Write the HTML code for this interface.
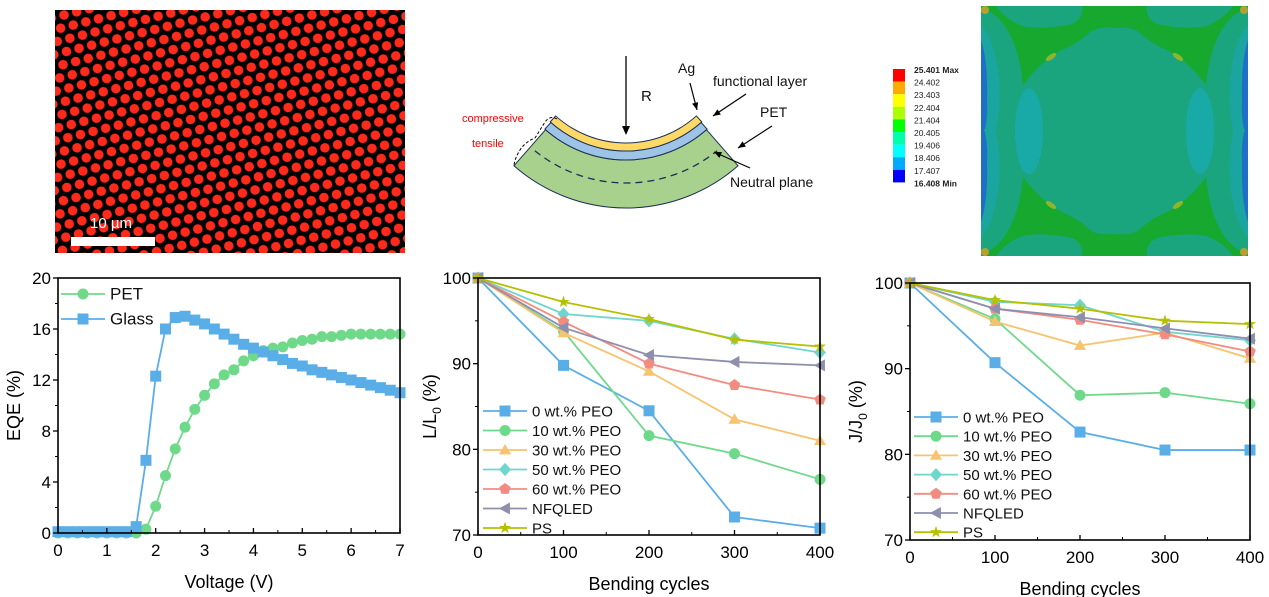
<!DOCTYPE html>
<html><head><meta charset="utf-8"><style>
body{margin:0;background:#fff;width:1269px;height:597px;overflow:hidden;font-family:"Liberation Sans",sans-serif}
svg{position:absolute;left:0;top:0}
</style></head><body>
<svg id="s" width="1269" height="597" viewBox="0 0 1269 597" xmlns="http://www.w3.org/2000/svg" font-family="Liberation Sans, sans-serif">
<defs>
<pattern id="dots" width="13" height="24" patternUnits="userSpaceOnUse" patternTransform="rotate(-14)">
<rect width="13" height="24" fill="#000"/>
<circle cx="6.5" cy="6" r="4.8" fill="#ff2a1c"/>
<circle cx="0" cy="18" r="4.8" fill="#ff2a1c"/><circle cx="13" cy="18" r="4.8" fill="#ff2a1c"/>
</pattern>
<clipPath id="fe"><rect x="981" y="6" width="267" height="250"/></clipPath>
<g id="feq">
<path d="M981 6 L1116 6 L1116 28 Q1095 26 1088 34 Q1075 45 1062 50 Q1040 62 1023 85 Q1018 35 995 15 Z" fill="#17a82f"/>
<path d="M996 6 L1082 6 Q1084 18 1072 24 Q1045 30 1022 26 Q1004 18 996 6Z" fill="#1aa57f"/>
<path d="M981 25 Q995 40 999 80 Q1001 110 995 133 L981 133Z" fill="#1aa5a0"/>
<path d="M981 40 Q988 60 987 100 Q988 120 984 133 L981 133Z" fill="#1f6fc8"/>
<ellipse cx="1029" cy="130" rx="14" ry="42" fill="#19a9a7"/>
<ellipse cx="1051" cy="57" rx="6" ry="2.5" transform="rotate(-35 1051 57)" fill="#8fb52a"/>
<circle cx="985" cy="10" r="4" fill="#b5a030"/>
</g>
</defs>
<g>
<rect x="55" y="10" width="350" height="243" fill="url(#dots)"/>
<text x="90" y="228" font-size="15" fill="#fff">10 µm</text>
<rect x="71" y="237" width="84" height="9" fill="#fff"/>
</g>
<g id="schem"></g>
<g>
<rect x="981" y="6" width="267" height="250" fill="#1aa57f"/>
<g clip-path="url(#fe)">
<use href="#feq"/>
<use href="#feq" transform="translate(2229,0) scale(-1,1)"/>
<use href="#feq" transform="translate(0,262) scale(1,-1)"/>
<use href="#feq" transform="translate(2229,262) scale(-1,-1)"/>
</g>
</g>
<g id="cbar"></g>
<g id="c1"></g><g id="c2"></g><g id="c3"></g>
</svg>
<script>
const NS="http://www.w3.org/2000/svg";
function E(p,t,a,txt){const e=document.createElementNS(NS,t);for(const k in a)e.setAttribute(k,a[k]);if(txt!==undefined)e.textContent=txt;p.appendChild(e);return e;}
const sc=document.getElementById('schem');
(function(){
  const cx=626, cy=38;
  const p=(r,a)=>[cx+r*Math.sin(a),cy+r*Math.cos(a)];
  function arc(r1,r2,a,fill){
    const A=p(r1,-a),B=p(r1,a),C=p(r2,a),D=p(r2,-a);
    return E(sc,'path',{d:`M${A} A${r1} ${r1} 0 0 0 ${B} L${C} A${r2} ${r2} 0 0 1 ${D} Z`,fill:fill,stroke:'#1d2f55','stroke-width':1});
  }
  const a=0.72;
  arc(122,170,a,'#a9d18e');
  arc(113,122,a*1.01,'#9dc3e6');
  arc(105,113,a*1.02,'#ffd966');
  const d1=p(145,-0.68),d2=p(145,0.68);
  E(sc,'path',{d:`M${d1} A145 145 0 0 0 ${d2}`,fill:'none',stroke:'#1d2f55','stroke-width':1.3,'stroke-dasharray':'7 5'});
  E(sc,'line',{x1:626,y1:56,x2:626,y2:132,stroke:'#000','stroke-width':1.3});
  E(sc,'path',{d:'M622 126 L626 135 L630 126Z',fill:'#000'});
  const T=(x,y,s,t,c)=>E(sc,'text',{x:x,y:y,'font-size':s,fill:c||'#111'},t);
  T(641,101,15,'R');T(678,73,14,'Ag');T(713,86,14,'functional layer');T(760,117,14,'PET');T(730,187,14,'Neutral plane');
  T(462,122,11,'compressive','#f00');T(472,147,11,'tensile','#f00');
  const ar=(x1,y1,x2,y2)=>{E(sc,'line',{x1:x1,y1:y1,x2:x2,y2:y2,stroke:'#000','stroke-width':1.2});const a=Math.atan2(y2-y1,x2-x1);E(sc,'path',{d:`M${x2} ${y2} L${x2-8*Math.cos(a-0.4)} ${y2-8*Math.sin(a-0.4)} L${x2-8*Math.cos(a+0.4)} ${y2-8*Math.sin(a+0.4)}Z`,fill:'#000'});};
  ar(690,83,697,110);ar(746,94,713,116);ar(772,126,738,148);ar(750,168,714,152);
  E(sc,'path',{d:'M557 119 Q550 115 545 122 Q540 130 535 138 Q525 142 520 150 Q515 158 514 165',fill:'none',stroke:'#000','stroke-dasharray':'3 2'});
})();
const cb=document.getElementById('cbar');
const cbCols=['#ff0000','#ffaa00','#ffff00','#aaff00','#00ff00','#00ffaa','#00ffff','#00aaff','#0000ff'];
const cbLabs=['25.401 Max','24.402','23.403','22.404','21.404','20.405','19.406','18.406','17.407','16.408 Min'];
cbCols.forEach((c,i)=>E(cb,'rect',{x:893,y:69+i*12.6,width:12,height:12.6,fill:c}));
cbLabs.forEach((l,i)=>E(cb,'text',{x:914,y:73+i*12.6,'font-size':8.5,'font-weight':(i==0||i==9)?'bold':'normal',fill:'#222'},l));

const volts=[0,0.2,0.4,0.6,0.8,1,1.2,1.4,1.6,1.8,2,2.2,2.4,2.6,2.8,3,3.2,3.4,3.6,3.8,4,4.2,4.4,4.6,4.8,5,5.2,5.4,5.6,5.8,6,6.2,6.4,6.6,6.8,7];
const eqePET=[0,0,0,0,0,0,0,0,0,0.3,2.1,4.5,6.6,8.3,9.7,10.8,11.7,12.4,12.8,13.5,13.9,14.3,14.5,14.6,14.9,15.1,15.2,15.4,15.4,15.5,15.6,15.6,15.6,15.6,15.6,15.6];
const eqeGlass=[0.1,0.1,0.1,0.1,0.1,0.1,0.1,0.1,0.5,5.7,12.3,16.0,16.9,17.0,16.7,16.4,16.0,15.6,15.2,14.8,14.5,14.2,13.9,13.6,13.3,13.1,12.8,12.6,12.4,12.2,12.0,11.8,11.6,11.4,11.2,11.0];
const cycles=[0,100,200,300,400];
const seriesNames=['0 wt.% PEO','10 wt.% PEO','30 wt.% PEO','50 wt.% PEO','60 wt.% PEO','NFQLED','PS'];
const L0=[100,89.8,84.5,72.1,70.8];
const L10=[100,93.8,81.6,79.5,76.5];
const L30=[100,93.6,89.1,83.5,81.0];
const L50=[100,95.8,95.0,92.9,91.3];
const L60=[100,94.9,90.0,87.5,85.8];
const LNF=[100,94.2,91.0,90.2,89.8];
const LPS=[100,97.2,95.2,92.8,92.0];
const J0=[100,90.7,82.6,80.5,80.5];
const J10=[100,95.8,86.9,87.2,85.9];
const J30=[100,95.5,92.7,94.2,91.2];
const J50=[100,97.8,97.4,94.3,93.3];
const J60=[100,97.0,95.7,94.0,92.0];
const JNF=[100,97.0,96.0,94.7,93.5];
const JPS=[100,98.0,97.0,95.6,95.2];
const eqeTicks=[0,4,8,12,16,20];
const vTicks=[0,1,2,3,4,5,6,7];
const cycTicks=[0,100,200,300,400];
const pctTicks=[70,80,90,100];

const COLS=['#5aaee8','#6fd98a','#f7c36e','#6fd6cc','#f28b80','#8e8fae','#b5c000'];
const MK=['square','circle','triangle','diamond','pentagon','left','star'];

function marker(g,type,x,y,c,s){
  s=s||5.5;let el;
  if(type=='square')el=E(g,'rect',{x:x-s,y:y-s,width:2*s,height:2*s,fill:c});
  else if(type=='circle')el=E(g,'circle',{cx:x,cy:y,r:s,fill:c});
  else{let pts=[];
    if(type=='triangle')pts=[[0,-s*1.1],[s*1.1,s*0.8],[-s*1.1,s*0.8]];
    else if(type=='diamond')pts=[[0,-s*1.2],[s*1.1,0],[0,s*1.2],[-s*1.1,0]];
    else if(type=='left')pts=[[-s*1.1,0],[s*0.9,-s*1.1],[s*0.9,s*1.1]];
    else if(type=='pentagon'){for(let i=0;i<5;i++){const a=-Math.PI/2+i*2*Math.PI/5;pts.push([s*1.1*Math.cos(a),s*1.1*Math.sin(a)]);}}
    else if(type=='star'){for(let i=0;i<10;i++){const a=-Math.PI/2+i*Math.PI/5,r=i%2?s*0.45:s*1.15;pts.push([r*Math.cos(a),r*Math.sin(a)]);}}
    el=E(g,'polygon',{points:pts.map(p=>(x+p[0])+','+(y+p[1])).join(' '),fill:c});}
  return el;
}

function axes(g,L,R,T,B,xs,ys,xt,yt,xminor,yminor,xlab,ylab,ylx){
  xt.forEach(v=>{const x=xs(v);E(g,'line',{x1:x,y1:B,x2:x,y2:B-5,stroke:'#000','stroke-width':1.3});
    const t=E(g,'text',{x:x,y:B+23,'font-size':17,'text-anchor':'middle',fill:'#000'},v);});
  xminor.forEach(v=>{const x=xs(v);E(g,'line',{x1:x,y1:B,x2:x,y2:B-3,stroke:'#000','stroke-width':1});});
  yt.forEach(v=>{const y=ys(v);E(g,'line',{x1:L,y1:y,x2:L-5,y2:y,stroke:'#000','stroke-width':1.3});
    const t=E(g,'text',{x:L-7,y:y+6,'font-size':17,'text-anchor':'end',fill:'#000'},v);});
  yminor.forEach(v=>{const y=ys(v);E(g,'line',{x1:L,y1:y,x2:L-3,y2:y,stroke:'#000','stroke-width':1});});
  const f=E(g,'rect',{x:L,y:T,width:R-L,height:B-T,fill:'none',stroke:'#000','stroke-width':1.6});
  
  const xl=E(g,'text',{x:(L+R)/2,y:B+55,'font-size':18,'text-anchor':'middle',fill:'#000'},xlab);
  
  const yl=E(g,'text',{transform:`translate(${ylx},${(T+B)/2}) rotate(-90)`,'font-size':18,'text-anchor':'middle',fill:'#000'});
  yl.innerHTML=ylab;
  
}
function line(g,xs,ys,X,Y,c,mk,name){
  const s=E(g,'g',{});
  
  E(s,'polyline',{points:X.map((x,i)=>xs(x)+','+ys(Y[i])).join(' '),fill:'none',stroke:c,'stroke-width':1.8});
  X.forEach((x,i)=>{const m=marker(s,mk,xs(x),ys(Y[i]),c);});
}
function legend(g,x0,y0,dy,names,cols,mks,fs){
  names.forEach((n,i)=>{const y=y0+i*dy;const lg=E(g,'g',{});
    
    E(lg,'line',{x1:x0,y1:y,x2:x0+44,y2:y,stroke:cols[i],'stroke-width':1.8});
    marker(lg,mks[i],x0+22,y,cols[i]);
    E(lg,'text',{x:x0+49,y:y+5.5,'font-size':fs||15,fill:'#111'},n);});
}
(function(){const g=document.getElementById('c1');
 const L=58,R=400,T=278,B=533;const xs=v=>L+(v/7)*(R-L),ys=v=>B-(v/20)*(B-T);
 line(g,xs,ys,volts,eqePET,COLS[1],'circle','series-pet');
 line(g,xs,ys,volts,eqeGlass,COLS[0],'square','series-glass');
 axes(g,L,R,T,B,xs,ys,vTicks,eqeTicks,[0.5,1.5,2.5,3.5,4.5,5.5,6.5],[2,6,10,14,18],'Voltage (V)','EQE (%)',20);
 legend(g,61,294,25,['PET','Glass'],[COLS[1],COLS[0]],['circle','square'],17);
})();
(function(){const g=document.getElementById('c2');
 const L=478,R=820,T=278,B=535;const xs=v=>L+(v/400)*(R-L),ys=v=>B-((v-70)/30)*(B-T);
 const S=[L0,L10,L30,L50,L60,LNF,LPS];
 S.forEach((s,i)=>line(g,xs,ys,cycles,s,COLS[i],MK[i],'series-'+i));
 axes(g,L,R,T,B,xs,ys,cycTicks,pctTicks,[50,150,250,350],[75,85,95],'Bending cycles','L/L<tspan font-size="12" dy="5">0</tspan><tspan dy="-5"> (%)</tspan>',436);
 legend(g,483,411,19.5,seriesNames,COLS,MK);
})();
(function(){const g=document.getElementById('c3');
 const L=910,R=1250,T=283,B=540;const xs=v=>L+(v/400)*(R-L),ys=v=>B-((v-70)/30)*(B-T);
 const S=[J0,J10,J30,J50,J60,JNF,JPS];
 S.forEach((s,i)=>line(g,xs,ys,cycles,s,COLS[i],MK[i],'series-'+i));
 axes(g,L,R,T,B,xs,ys,cycTicks,pctTicks,[50,150,250,350],[75,85,95],'Bending cycles','J/J<tspan font-size="12" dy="5">0</tspan><tspan dy="-5"> (%)</tspan>',862);
 legend(g,914,417,19.2,seriesNames,COLS,MK);
})();
</script>
</body></html>
